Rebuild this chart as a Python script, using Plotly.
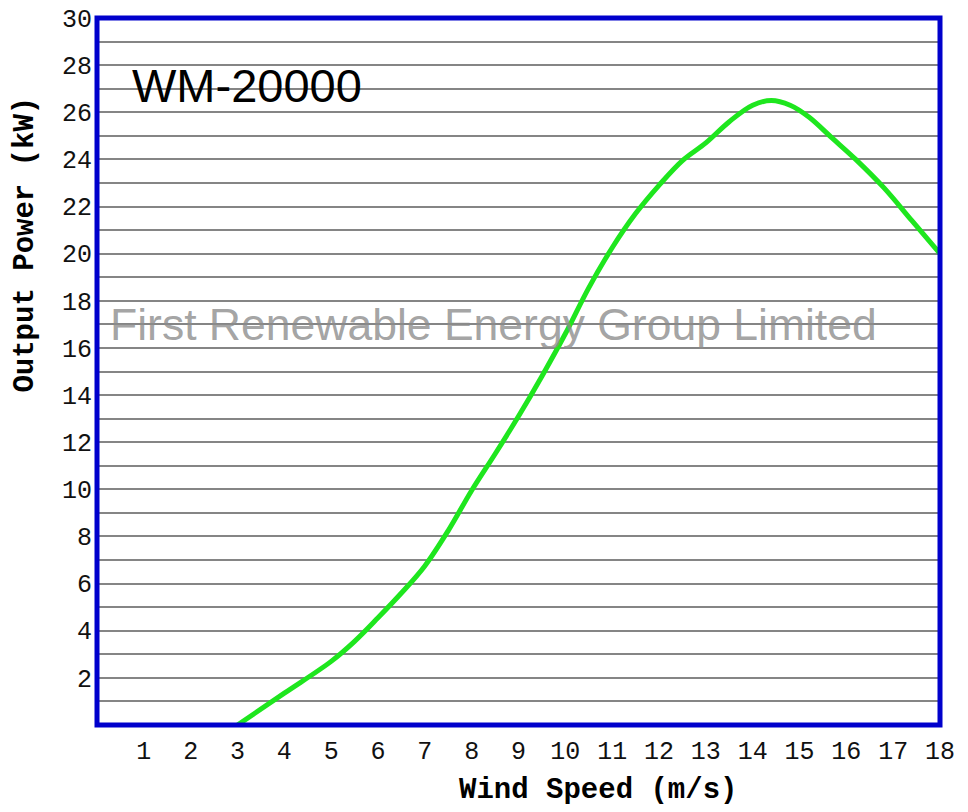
import plotly.graph_objects as go

# Power curve of WM-20000
wind_speed = [3, 4, 5, 5.5, 6, 6.5, 7, 7.5, 8, 8.5, 9, 9.5, 10, 10.5, 11, 11.5,
              12, 12.5, 13, 13.5, 14, 14.4, 14.8, 15.2, 15.7, 16.2, 16.8, 17.4, 18]
output_power = [0, 1.35, 2.7, 3.55, 4.55, 5.6, 6.75, 8.25, 9.95, 11.5, 13.1, 14.8,
                16.6, 18.55, 20.25, 21.7, 22.9, 23.95, 24.7, 25.6, 26.3, 26.5, 26.3,
                25.8, 24.9, 24.0, 22.8, 21.4, 20.0]

x_ticks = list(range(1, 19))
y_ticks = list(range(2, 31, 2))

model_name = "WM-20000"
watermark = "First Renewable Energy Group Limited"
x_title = "Wind Speed (m/s)"
y_title = "Output Power (kW)"

fig = go.Figure()
fig.add_trace(go.Scatter(
    x=wind_speed, y=output_power, mode="lines",
    line=dict(color="#1EE61E", width=5, shape="spline", smoothing=1.0),
    showlegend=False, hoverinfo="x+y",
))

tick_font = dict(family="Liberation Mono", size=25, color="#111111")

fig.update_layout(
    width=968, height=812,
    margin=dict(l=97, r=28, t=18, b=87, autoexpand=False),
    paper_bgcolor="white", plot_bgcolor="white",
    xaxis=dict(range=[0, 18], tickvals=x_ticks, ticktext=[str(v) for v in x_ticks],
               showgrid=False, zeroline=False, showline=False, ticks="",
               automargin=False, tickfont=tick_font, ticklabelstandoff=8),
    yaxis=dict(range=[0, 30], tickvals=y_ticks, ticktext=[str(v) for v in y_ticks],
               showgrid=True, gridcolor="#858585", gridwidth=1.5,
               minor=dict(dtick=1, showgrid=True, gridcolor="#858585", gridwidth=1.5),
               zeroline=False, showline=False, ticks="", automargin=False,
               tickfont=tick_font, ticklabelstandoff=4),
    shapes=[dict(type="rect", xref="paper", yref="paper", x0=0, x1=1, y0=0, y1=1,
                 line=dict(color="#0000CC", width=5), layer="above")],
    annotations=[
        dict(text=model_name, xref="x", yref="paper", x=0.7, y=0.905, xanchor="left",
             yanchor="middle", showarrow=False,
             font=dict(family="Liberation Sans", size=47, color="#000000")),
        dict(text=watermark, xref="paper", yref="paper", x=0.47, y=0.566,
             xanchor="center", yanchor="middle", showarrow=False,
             font=dict(family="Liberation Sans", size=44.5, color="rgba(140,140,140,0.8)")),
        dict(text="<b>" + x_title + "</b>", xref="paper", yref="paper",
             x=0.594, y=-0.092, xanchor="center", yanchor="middle", showarrow=False,
             font=dict(family="Liberation Mono", size=29, color="#000000")),
        dict(text="<b>" + y_title + "</b>", xref="paper", yref="paper",
             x=-0.085, y=0.68, xanchor="center", yanchor="middle", showarrow=False,
             textangle=-90,
             font=dict(family="Liberation Mono", size=29, color="#000000")),
    ],
)

fig.write_html(
    "out.html",
    config={"displayModeBar": False},
    post_script="document.body.style.margin='0';document.body.style.overflow='hidden';",
)
